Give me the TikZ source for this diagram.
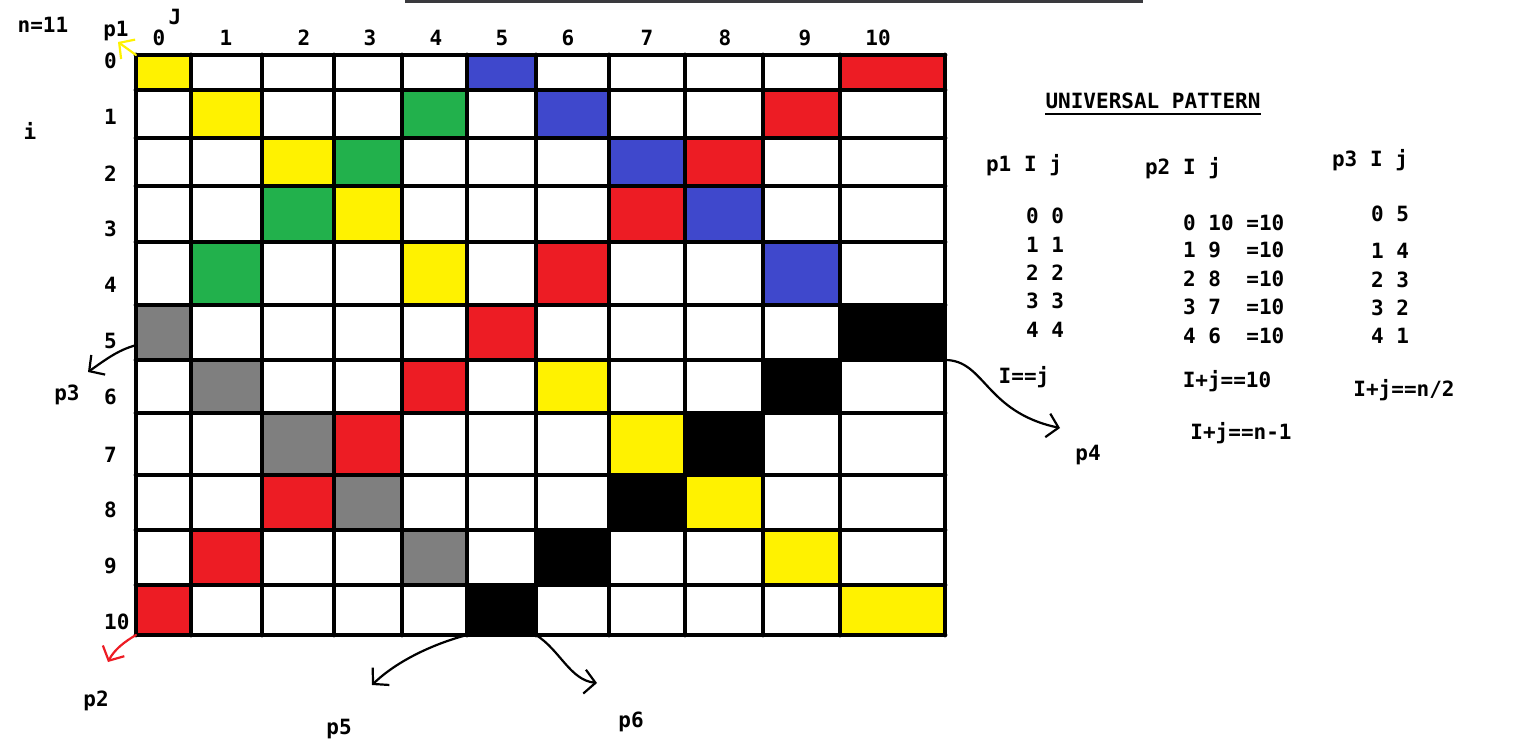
\documentclass[tikz,border=0pt]{standalone}
\usepackage{fontspec}
\newfontfamily\paintfont{DejaVu Sans Mono}
\usetikzlibrary{arrows.meta,calc}
\definecolor{PaintYellow}{RGB}{255,242,0}
\definecolor{PaintBlue}{RGB}{63,72,204}
\definecolor{PaintGreen}{RGB}{34,177,76}
\definecolor{PaintRed}{RGB}{237,28,36}
\definecolor{PaintGrey}{RGB}{127,127,127}
\definecolor{ScreenBar}{RGB}{58,58,62}
\def\gridx{136,191,262,334,402,467,536,609,685,763,840,945}
\def\gridy{55,90,138,186,242,305,360,413,475,530,585,635}

\begin{document}
\begin{tikzpicture}[x=1pt,y=-1pt,
    every node/.style={font=\paintfont\bfseries\fontsize{21}{25}\selectfont, inner sep=0pt},
    gridline/.style={line width=4.8pt, line cap=round},
    sketcharrow/.style={line width=2.2pt, line cap=round, -{Straight Barb[length=11pt,width=24pt]}}]
  \useasboundingbox (0,0) rectangle (1519,749);
  \fill[ScreenBar] (405,0) rectangle (1143,3);

  \foreach \i in {0,...,11}
    \foreach \j in {0,...,11}{
      \pgfmathsetmacro\gx{{\gridx}[\j]}
      \pgfmathsetmacro\gy{{\gridy}[\i]}
      \coordinate (g-\i-\j) at (\gx,\gy);
    }

  \foreach \i/\j/\c in {0/0/PaintYellow, 0/5/PaintBlue, 0/10/PaintRed,
      1/1/PaintYellow, 1/4/PaintGreen, 1/6/PaintBlue, 1/9/PaintRed,
      2/2/PaintYellow, 2/3/PaintGreen, 2/7/PaintBlue, 2/8/PaintRed,
      3/2/PaintGreen, 3/3/PaintYellow, 3/7/PaintRed, 3/8/PaintBlue,
      4/1/PaintGreen, 4/4/PaintYellow, 4/6/PaintRed, 4/9/PaintBlue,
      5/0/PaintGrey, 5/5/PaintRed, 5/10/black,
      6/1/PaintGrey, 6/4/PaintRed, 6/6/PaintYellow, 6/9/black,
      7/2/PaintGrey, 7/3/PaintRed, 7/7/PaintYellow, 7/8/black,
      8/2/PaintRed, 8/3/PaintGrey, 8/7/black, 8/8/PaintYellow,
      9/1/PaintRed, 9/4/PaintGrey, 9/6/black, 9/9/PaintYellow,
      10/0/PaintRed, 10/5/black, 10/10/PaintYellow}{
    \pgfmathtruncatemacro\ni{\i+1}
    \pgfmathtruncatemacro\nj{\j+1}
    \fill[\c] (g-\i-\j) rectangle (g-\ni-\nj);
  }

  \foreach \k in {0,...,11}{
    \draw[gridline] (g-0-\k) -- (g-11-\k);
    \draw[gridline] (g-\k-0) -- (g-\k-11);
  }

  % column and row numbers
  \foreach \j/\x in {0/159,1/226,2/304,3/370,4/436,5/502,6/568,7/647,8/725,9/805,10/878}
    \node (col-\j) at (\x,38) {\j};
  \foreach \i/\y in {0/61,1/117,2/174,3/229,4/285,5/341,6/397,7/455,8/510,9/566,10/622}
    \node[anchor=west] (row-\i) at (104,\y) {\i};

  \node (nsize) at (43,25) {n=11};
  \node (jname) at (175,17) {J};
  \node (iname) at (30,131) {i};

  \node (lbl-p1) at (116,31) {p1};
  \node (lbl-p2) at (96,701) {p2};
  \node (lbl-p3) at (67,395) {p3};
  \node (lbl-p4) at (1088,455) {p4};
  \node (lbl-p5) at (339,729) {p5};
  \node (lbl-p6) at (631,722) {p6};

  \coordinate (p1tip) at (118,42);
  \coordinate (p2tip) at (108,662);
  \coordinate (p3tip) at (88,372);
  \coordinate (p4tip) at (1060,428);
  \coordinate (p5tip) at (372,685);
  \coordinate (p6tip) at (597,683);

  \draw[sketcharrow, PaintYellow] (g-0-0) -- (p1tip);
  \draw[sketcharrow, PaintRed] (g-11-0) .. controls (124,642) and (114,650) .. (p2tip);
  \draw[sketcharrow] ($(g-5-0)!0.73!(g-6-0)$) .. controls (118,350) and (105,360) .. (p3tip);
  \draw[sketcharrow] (g-6-11) .. controls (985,360) and (985,412) .. (p4tip);
  \draw[sketcharrow] (g-11-5) .. controls (440,642) and (400,658) .. (p5tip);
  \draw[sketcharrow] (g-11-6) .. controls (560,650) and (570,680) .. (p6tip);

  % pattern table
  \node (title) at (1153,101) {UNIVERSAL PATTERN};
  \draw[line width=2pt] ([yshift=-5pt]title.south west) -- ([yshift=-5pt]title.south east);

  \node (head-p1) at (1024,165) {p1 I j};
  \node (head-p2) at (1183,168) {p2 I j};
  \node (head-p3) at (1370,160) {p3 I j};

  \foreach \t/\y [count=\n] in {0 0/216, 1 1/245, 2 2/273, 3 3/301, 4 4/330}
    \node[anchor=west] (pa-\n) at (1026,\y) {\t};
  \foreach \t/\y [count=\n] in {0 10 =10/223, 1 9\ \ =10/250, 2 8\ \ =10/279, 3 7\ \ =10/307, 4 6\ \ =10/336}
    \node[anchor=west] (pb-\n) at (1183,\y) {\t};
  \foreach \t/\y [count=\n] in {0 5/214, 1 4/251, 2 3/280, 3 2/308, 4 1/336}
    \node[anchor=west] (pc-\n) at (1371,\y) {\t};

  \node (rule-p1) at (1024,377) {I==j};
  \node (rule-p2) at (1227,381) {I+j==10};
  \node (rule-p2b) at (1241,433) {I+j==n-1};
  \node (rule-p3) at (1404,390) {I+j==n/2};
\end{tikzpicture}
\end{document}
